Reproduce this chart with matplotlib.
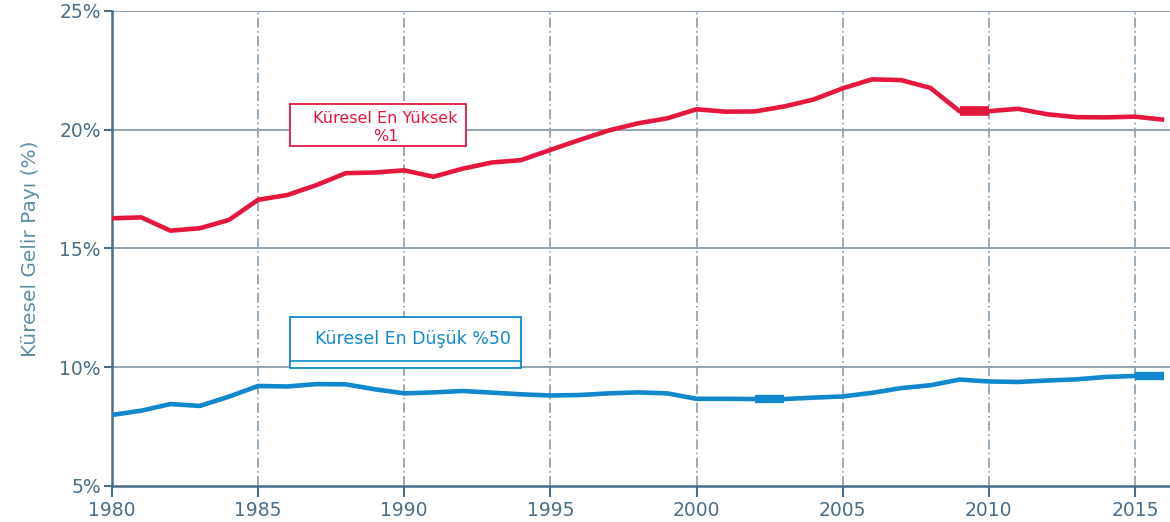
import numpy as np
import matplotlib.pyplot as plt
from matplotlib.patches import Rectangle

years = np.arange(1980, 2017)
top1 = [16.27, 16.31, 15.75, 15.85, 16.2, 17.05, 17.25, 17.67, 18.17, 18.2,
        18.29, 18.02, 18.36, 18.62, 18.72, 19.15, 19.57, 19.97, 20.27, 20.48,
        20.86, 20.76, 20.77, 20.98, 21.27, 21.74, 22.12, 22.09, 21.76, 20.78,
        20.78, 20.88, 20.65, 20.53, 20.52, 20.55, 20.42]
bottom50 = [7.99, 8.17, 8.45, 8.37, 8.76, 9.21, 9.19, 9.29, 9.28, 9.07,
            8.9, 8.94, 9.0, 8.93, 8.86, 8.81, 8.83, 8.9, 8.94, 8.9,
            8.67, 8.67, 8.66, 8.66, 8.72, 8.77, 8.92, 9.12, 9.24, 9.48,
            9.4, 9.38, 9.44, 9.49, 9.59, 9.63, 9.63]
xticks = [1980, 1985, 1990, 1995, 2000, 2005, 2010, 2015]
yticks = [5, 10, 15, 20, 25]
red = '#e5173f'
blue = '#0f88cc'
axcol = '#4b6e88'

fig = plt.figure(figsize=(11.7, 5.22), dpi=100)
ax = fig.add_axes([0.0957, 0.069, 0.9043, 0.91])

ax.plot(years, top1, color=red, lw=3.3, solid_capstyle='butt', zorder=3)
ax.plot(years, bottom50, color=blue, lw=3.3, solid_capstyle='butt', zorder=3)

# thicker pieces
i = list(years).index(2009)
ax.plot(years[i:i+2], top1[i:i+2], color=red, lw=7, solid_capstyle='butt', zorder=3)
for y0 in (2002, 2015):
    i = list(years).index(y0)
    ax.plot(years[i:i+2], bottom50[i:i+2], color=blue, lw=6, solid_capstyle='butt', zorder=3)

ax.set_xlim(1980, 2016.2)
ax.set_ylim(5, 25)
ax.set_xticks(xticks)
ax.set_yticks(yticks)
ax.set_yticklabels([f'{v}%' for v in yticks])

for v in yticks[1:]:
    ax.axhline(v, color='#8a9cab', lw=1.3, zorder=1)
for v in xticks[1:]:
    ax.axvline(v, color='#8a9cab', lw=1.2, ls=(0, (6, 2, 1, 2)), zorder=1)

for s in ['top', 'right']:
    ax.spines[s].set_visible(False)
for s in ['left', 'bottom']:
    ax.spines[s].set_color(axcol)
    ax.spines[s].set_linewidth(1.8)
ax.tick_params(axis='both', colors=axcol, width=1.5, labelsize=13.5)
ax.tick_params(axis='x', length=8, pad=3)
ax.tick_params(axis='y', length=6, pad=2)

ax.set_ylabel('Küresel Gelir Payı (%)', color='#5f8fa3', fontsize=14.5, labelpad=14)

# label boxes
ax.add_patch(Rectangle((1986.08, 19.32), 6.05, 1.76, fill=True, facecolor='white',
                       edgecolor=red, lw=1.3, zorder=4))
ax.text(1989.36, 20.1, 'Küresel En Yüksek\n%1', color=red, fontsize=11.5,
        ha='center', va='center', linespacing=1.3, zorder=5)

ax.add_patch(Rectangle((1986.08, 9.97), 7.9, 2.15, fill=True, facecolor='white',
                       edgecolor=blue, lw=1.3, zorder=4))
ax.plot([1986.08, 1993.98], [10.26, 10.26], color=blue, lw=1.2, zorder=5)
ax.text(1990.3, 11.2, 'Küresel En Düşük %50', color=blue, fontsize=12.5,
        ha='center', va='center', zorder=5)

fig.savefig('out.png', dpi=100)
